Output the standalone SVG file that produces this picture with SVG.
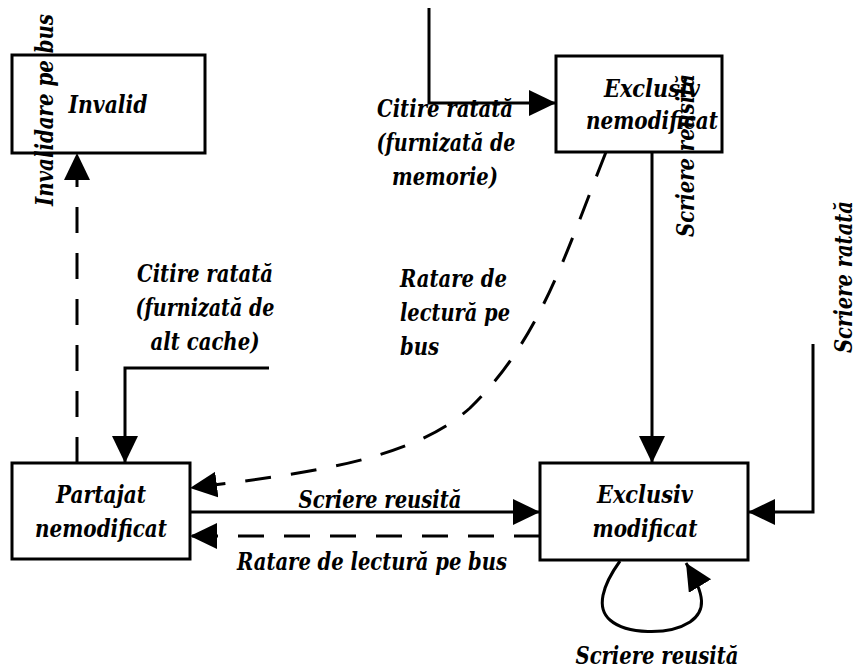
<svg xmlns="http://www.w3.org/2000/svg" width="857" height="669" viewBox="0 0 857 669">
  <style>
    .box { fill: #fff; stroke: #000; stroke-width: 3; }
    .t { font-family: 'DejaVu Serif Condensed', 'DejaVu Serif', serif; font-size: 24px; font-weight: 700; font-style: italic; fill: #000; }
    .c { text-anchor: middle; }
    .line { fill: none; stroke: #000; stroke-width: 3; }
    .dash { stroke-dasharray: 26 20; }
  </style>
  <defs>
    <marker id="arrow" markerUnits="userSpaceOnUse" markerWidth="28" markerHeight="27" refX="27" refY="13" orient="auto">
      <path d="M0,0 L27,13 L0,26 Z" fill="#000"/>
    </marker>
  </defs>
  <rect width="857" height="669" fill="#fff"/>

  <!-- states -->
  <g id="invalid">
    <rect class="box" x="12" y="55" width="193" height="98"/>
    <text class="t c" x="108" y="113" textLength="79" lengthAdjust="spacingAndGlyphs">Invalid</text>
  </g>
  <g id="exclusiv-nemodificat">
    <rect class="box" x="556" y="56" width="166" height="96"/>
    <text class="t c" x="652" y="97" textLength="96" lengthAdjust="spacingAndGlyphs">Exclusiv</text>
    <text class="t c" x="652" y="129" textLength="132" lengthAdjust="spacingAndGlyphs">nemodificat</text>
  </g>
  <g id="partajat-nemodificat">
    <rect class="box" x="12" y="463" width="178" height="96"/>
    <text class="t c" x="101" y="503" textLength="90" lengthAdjust="spacingAndGlyphs">Partajat</text>
    <text class="t c" x="101" y="537" textLength="132" lengthAdjust="spacingAndGlyphs">nemodificat</text>
  </g>
  <g id="exclusiv-modificat">
    <rect class="box" x="540" y="463" width="208" height="97"/>
    <text class="t c" x="645" y="503" textLength="96" lengthAdjust="spacingAndGlyphs">Exclusiv</text>
    <text class="t c" x="645" y="537" textLength="105" lengthAdjust="spacingAndGlyphs">modificat</text>
  </g>

  <!-- transitions -->
  <g id="connectors">
    <path class="line" d="M429,8 L429,103 L556,103" marker-end="url(#arrow)"/>
    <path class="line" d="M269,368 L125,368 L125,463" marker-end="url(#arrow)"/>
    <path class="line dash" d="M77,463 L77,153" marker-end="url(#arrow)"/>
    <path class="line dash" d="M606,152 C565,255 540,340 470,408 C410,462 300,474 190,488" marker-end="url(#arrow)"/>
    <path class="line" d="M190,512 L540,512" marker-end="url(#arrow)"/>
    <path class="line dash" d="M540,536 L190,536" marker-end="url(#arrow)"/>
    <path class="line" d="M652,152 L652,463" marker-end="url(#arrow)"/>
    <path class="line" d="M813,344 L813,512 L748,512" marker-end="url(#arrow)"/>
    <path class="line" d="M620,561 C602,586 596,608 610,620 C626,634 668,636 690,622 C706,611 706,596 686,563" marker-end="url(#arrow)"/>
  </g>

  <!-- transition labels -->
  <g id="labels">
    <text class="t c" x="445" y="117" textLength="136" lengthAdjust="spacingAndGlyphs">Citire ratată</text>
    <text class="t c" x="446" y="151" textLength="139" lengthAdjust="spacingAndGlyphs">(furnizată de</text>
    <text class="t c" x="445" y="185" textLength="106" lengthAdjust="spacingAndGlyphs">memorie)</text>

    <text class="t c" x="205" y="282" textLength="136" lengthAdjust="spacingAndGlyphs">Citire ratată</text>
    <text class="t c" x="205" y="316" textLength="139" lengthAdjust="spacingAndGlyphs">(furnizată de</text>
    <text class="t c" x="205" y="350" textLength="109" lengthAdjust="spacingAndGlyphs">alt cache)</text>

    <text class="t" x="400" y="287" textLength="107" lengthAdjust="spacingAndGlyphs">Ratare de</text>
    <text class="t" x="400" y="321" textLength="110" lengthAdjust="spacingAndGlyphs">lectură pe</text>
    <text class="t" x="400" y="355" textLength="39" lengthAdjust="spacingAndGlyphs">bus</text>

    <text class="t c" x="380" y="508" textLength="163" lengthAdjust="spacingAndGlyphs">Scriere reusită</text>
    <text class="t c" x="372" y="570" textLength="270" lengthAdjust="spacingAndGlyphs">Ratare de lectură pe bus</text>
    <text class="t c" x="657" y="664" textLength="163" lengthAdjust="spacingAndGlyphs">Scriere reusită</text>

    <text class="t" transform="translate(53,206) rotate(-90)" textLength="192" lengthAdjust="spacingAndGlyphs">Invalidare pe bus</text>
    <text class="t" transform="translate(694,237) rotate(-90)" textLength="163" lengthAdjust="spacingAndGlyphs">Scriere reusită</text>
    <text class="t" transform="translate(852,353) rotate(-90)" textLength="152" lengthAdjust="spacingAndGlyphs">Scriere ratată</text>
  </g>
</svg>
